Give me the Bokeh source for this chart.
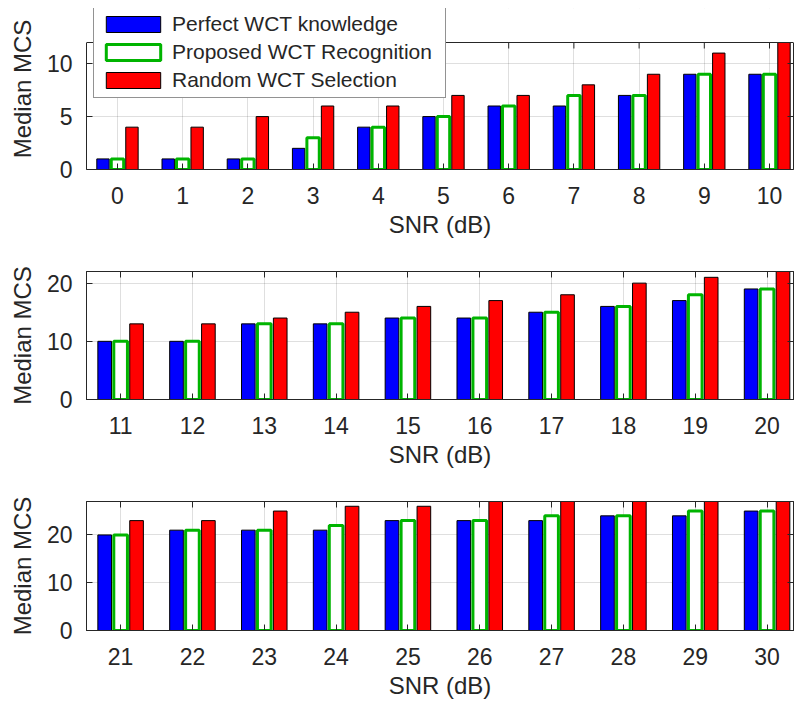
from bokeh.plotting import figure
from bokeh.models import (Range1d, FixedTicker, LinearAxis, Legend, LegendItem,
                          ColumnDataSource, Span, BoxAnnotation)
from bokeh.transform import dodge
from bokeh.layouts import column
from bokeh.embed import file_html
from bokeh.resources import INLINE

# ---- data ----
snr_a = [0, 1, 2, 3, 4, 5, 6, 7, 8, 9, 10]
perfect_a = [1, 1, 1, 2, 4, 5, 6, 6, 7, 9, 9]
proposed_a = [1, 1, 1, 3, 4, 5, 6, 7, 7, 9, 9]
random_a = [4, 4, 5, 6, 6, 7, 7, 8, 9, 11, 12]

snr_b = [11, 12, 13, 14, 15, 16, 17, 18, 19, 20]
perfect_b = [10, 10, 13, 13, 14, 14, 15, 16, 17, 19]
proposed_b = [10, 10, 13, 13, 14, 14, 15, 16, 18, 19]
random_b = [13, 13, 14, 15, 16, 17, 18, 20, 21, 22]

snr_c = [21, 22, 23, 24, 25, 26, 27, 28, 29, 30]
perfect_c = [20, 21, 21, 21, 23, 23, 23, 24, 24, 25]
proposed_c = [20, 21, 21, 22, 23, 23, 24, 24, 25, 25]
random_c = [23, 23, 25, 26, 26, 27, 27, 27, 27, 27]

series_labels = ["Perfect WCT knowledge", "Proposed WCT Recognition", "Random WCT Selection"]
y_ticks_a = [0, 5, 10]
y_ticks_bc = [0, 10, 20]
y_max_a, y_max_b, y_max_c = 12, 22, 27

FONT = "Liberation Sans"
TXT = "#262626"
BLUE = "#0000ff"
GREEN = "#00b400"
RED = "#ff0000"
W = 795
TICK = 6


def style_axis(ax):
    ax.major_tick_in = TICK
    ax.major_tick_out = 0
    ax.minor_tick_line_color = None
    ax.axis_line_color = TXT
    ax.major_tick_line_color = TXT
    ax.major_label_text_font = FONT
    ax.major_label_text_font_size = "23px"
    ax.major_label_text_color = TXT
    ax.axis_label_text_font = FONT
    ax.axis_label_text_font_size = "24px"
    ax.axis_label_text_font_style = "normal"
    ax.axis_label_text_color = TXT


def mirror_axis(ticks, bounds="auto"):
    return LinearAxis(ticker=FixedTicker(ticks=ticks), major_tick_in=TICK, major_tick_out=0,
                      minor_tick_line_color=None, axis_line_color=TXT, bounds=bounds,
                      major_tick_line_color=TXT, major_label_text_font_size="1px",
                      major_label_text_color=None, major_label_standoff=0)


def panel(snr, perf, prop, rand, ymax, yticks, height, top_b, bottom_b, frame_h=None,
          with_legend=False):
    src = ColumnDataSource(dict(snr=snr, perf=perf, prop=prop, rand=rand))
    frame_total = height - top_b - bottom_b
    # the top panel keeps free room above the axes box for the legend
    y_end = ymax if frame_h is None else ymax * frame_total / frame_h
    p = figure(width=W, height=height, output_backend="svg", toolbar_location=None,
               x_range=Range1d(snr[0] - 0.475, snr[-1] + 0.368), y_range=Range1d(0, y_end),
               min_border_left=86, min_border_right=2, min_border_top=top_b,
               min_border_bottom=bottom_b)
    p.background_fill_color = "white"
    p.border_fill_color = "white"

    w = 0.19
    r1 = p.vbar(x=dodge("snr", -0.222, range=p.x_range), top="perf", bottom=0, width=w,
                source=src, fill_color=BLUE, line_color="black", line_width=1)
    r2 = p.vbar(x="snr", top="prop", bottom=0, width=w, source=src,
                fill_color="white", line_color=GREEN, line_width=3)
    r3 = p.vbar(x=dodge("snr", 0.222, range=p.x_range), top="rand", bottom=0, width=w,
                source=src, fill_color=RED, line_color="black", line_width=1)

    for ax in p.xaxis + p.yaxis:
        style_axis(ax)
    p.xaxis.ticker = FixedTicker(ticks=snr)
    p.yaxis.ticker = FixedTicker(ticks=yticks)
    p.xaxis.axis_label = "SNR (dB)"
    p.yaxis.axis_label = "Median MCS"
    p.xaxis.major_label_standoff = 17
    p.xaxis.axis_label_standoff = 4
    p.yaxis.major_label_standoff = 14
    p.yaxis.axis_label_standoff = 8

    p.xgrid.grid_line_color = TXT
    p.xgrid.grid_line_alpha = 0.15
    p.ygrid.grid_line_color = TXT
    p.ygrid.grid_line_alpha = 0.15

    if frame_h is None:
        p.outline_line_color = TXT
        p.add_layout(mirror_axis(snr), "above")
        p.add_layout(mirror_axis(yticks), "right")
    else:
        p.outline_line_color = None
        p.yaxis.bounds = (0, ymax)
        p.add_layout(mirror_axis(yticks, bounds=(0, ymax)), "right")
        p.add_layout(BoxAnnotation(bottom=ymax, fill_color="white", fill_alpha=1.0,
                                   line_color=None))
        p.add_layout(Span(location=ymax, dimension="width", line_color=TXT, line_width=1))
        # inward tick marks along the top edge of the axes box
        tick_len = TICK * ymax / frame_h
        p.segment(x0="snr", x1="snr", y0=ymax, y1=ymax - tick_len, source=src,
                  line_color=TXT, line_width=1)

    if with_legend:
        leg = Legend(items=[LegendItem(label=series_labels[0], renderers=[r1]),
                            LegendItem(label=series_labels[1], renderers=[r2]),
                            LegendItem(label=series_labels[2], renderers=[r3])],
                     location=(7, 71))
        leg.label_text_font = FONT
        leg.label_text_font_size = "21px"
        leg.label_text_color = TXT
        leg.glyph_width = 68
        leg.glyph_height = 20
        leg.label_width = 268
        leg.label_height = 20
        leg.label_standoff = 5
        leg.padding = 5
        leg.spacing = 4
        leg.margin = 0
        leg.border_line_color = TXT
        leg.border_line_width = 1
        leg.background_fill_color = "white"
        leg.background_fill_alpha = 1.0
        p.add_layout(leg)
    return p


pa = panel(snr_a, perfect_a, proposed_a, random_a, y_max_a, y_ticks_a, 261, 8, 92,
           frame_h=127, with_legend=True)
pb = panel(snr_b, perfect_b, proposed_b, random_b, y_max_b, y_ticks_bc, 230, 10, 92)
pc = panel(snr_c, perfect_c, proposed_c, random_c, y_max_c, y_ticks_bc, 220, 10, 81)

layout = column(pa, pb, pc, spacing=0)
open("out.html", "w").write(file_html(layout, INLINE))
